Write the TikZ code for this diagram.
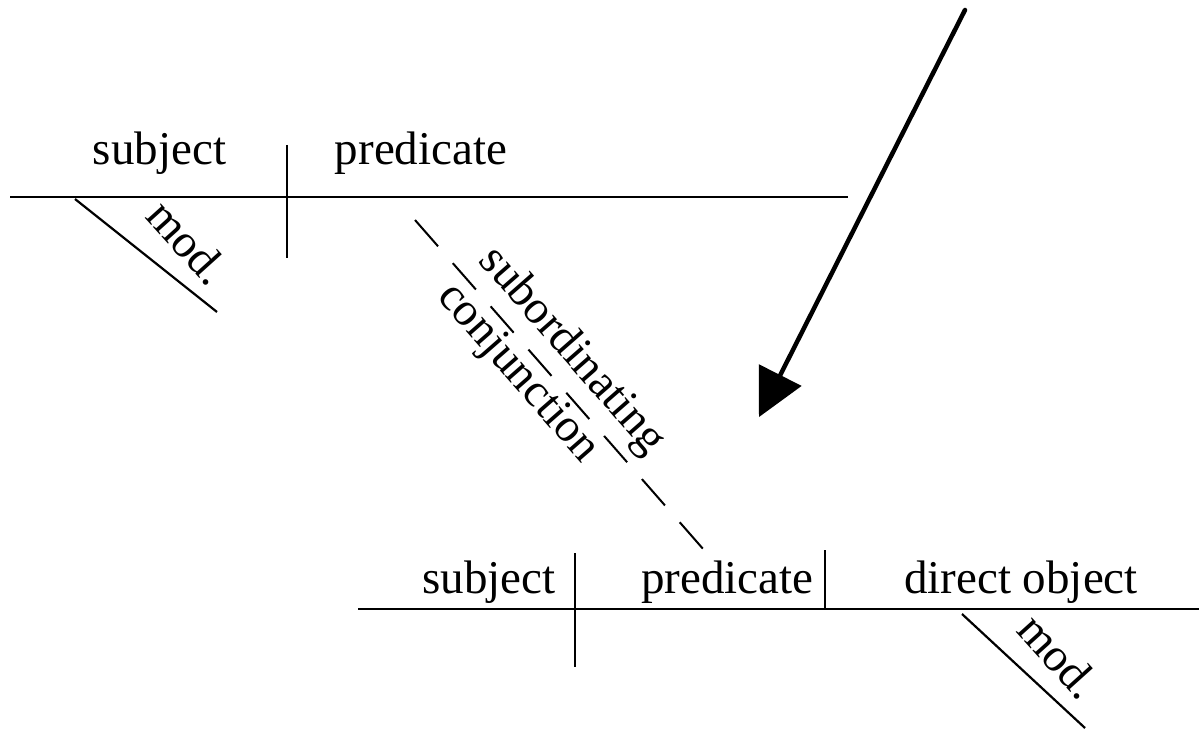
\documentclass[tikz,border=0pt]{standalone}
\usepackage{fontspec}
\setmainfont{Liberation Serif}
\usetikzlibrary{arrows.meta}
\begin{document}
\begin{tikzpicture}[x=1pt,y=-1pt,
  rule/.style={line width=2.2pt},
  word/.style={anchor=base,inner sep=0pt,font=\fontsize{47}{56}\selectfont},
  slant/.style={sloped,inner sep=0pt,font=\fontsize{47}{56}\selectfont},
  modtext/.style={rotate=-48,inner sep=0pt,font=\fontsize{47}{56}\selectfont},
  dashline/.style={line width=2pt,dash pattern=on 35pt off 22.4pt},
  bigarrow/.style={line width=4.5pt,line cap=round,-{Triangle[length=47pt,width=48pt,line width=0pt]}}]
\useasboundingbox (0,0) rectangle (1199,730);
% upper clause
\coordinate (tl) at (10,197);
\coordinate (tr) at (848,197);
\coordinate (tvt) at (287,145);
\coordinate (tvb) at (287,258);
\coordinate (tm1) at (75,199);
\coordinate (tm2) at (217,312);
\draw[rule] (tl) -- (tr);
\draw[rule] (tvt) -- (tvb);
\draw[rule] (tm1) -- (tm2);
\node[modtext] (tmod) at (188,242) {mod.};
\node[word] (tsubj) at (159.5,165) {subject};
\node[word] (tpred) at (421,165) {predicate};
% lower clause
\coordinate (bl) at (358,609);
\coordinate (br) at (1199,609);
\coordinate (bv1t) at (575,553);
\coordinate (bv1b) at (575,667);
\coordinate (bv2t) at (825,550);
\coordinate (bv2b) at (825,609);
\coordinate (bm1) at (962,614);
\coordinate (bm2) at (1085,728);
\draw[rule] (bl) -- (br);
\draw[rule] (bv1t) -- (bv1b);
\draw[rule] (bv2t) -- (bv2b);
\draw[rule] (bm1) -- (bm2);
\node[modtext] (bmod) at (1059,656) {mod.};
\node[word] (bsubj) at (489,593) {subject};
\node[word] (bpred) at (727.5,593) {predicate};
\node[word] (bobj) at (1021,593) {direct object};
% subordinating conjunction
\coordinate (d1) at (415,220);
\coordinate (d2) at (704,550);
\draw[dashline] (d1) -- (d2)
  node[slant,above,inner ysep=9pt,pos=0.46] (sub) {subordinating}
  node[slant,below,inner ysep=3pt,pos=0.417] (conj) {conjunction};
% arrow
\coordinate (as) at (965,10);
\coordinate (at) at (759,417);
\draw[bigarrow] (as) -- (at);
\end{tikzpicture}
\end{document}
